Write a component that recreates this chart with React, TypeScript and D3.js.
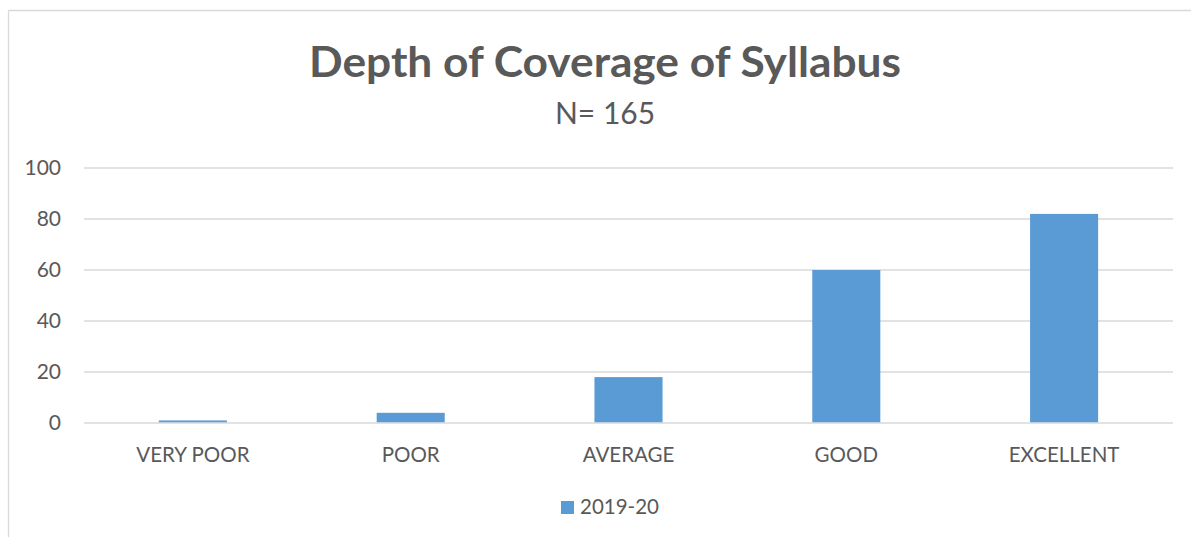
import React from "react";
import * as d3 from "d3";

const categories = ["VERY POOR", "POOR", "AVERAGE", "GOOD", "EXCELLENT"];
const values2019 = [1, 4, 18, 60, 82];
const yTicks = [0, 20, 40, 60, 80, 100];
const seriesName = "2019-20";
const titleText = "Depth of Coverage of Syllabus";
const subtitleText = "N= 165";

const W = 1191;
const H = 537;
const plot = { left: 84, right: 1173, top: 168, bottom: 423 };
const textColor = "#595959";
const gridColor = "#d9d9d9";
const barColor = "#5b9bd5";
const font = "Lato, 'Open Sans', sans-serif";

export default function App() {
  const x = d3
    .scaleBand<string>()
    .domain(categories)
    .range([plot.left, plot.right])
    .paddingInner(0.6875)
    .paddingOuter(0.34375);
  const y = d3.scaleLinear().domain([0, 100]).range([plot.bottom, plot.top]);
  const center = d3.scaleBand<string>().domain(categories).range([plot.left, plot.right]);

  return (
    <svg
      width={W}
      height={H}
      style={{ position: "absolute", left: 0, top: 0, background: "#fff" }}
      fontFamily={font}
    >
      <rect x={0} y={0} width={W} height={H} fill="#fff" />
      <line x1={8.5} y1={10.5} x2={W} y2={10.5} stroke={gridColor} strokeWidth={1.3} />
      <line x1={8.5} y1={10.5} x2={8.5} y2={H} stroke={gridColor} strokeWidth={1.3} />

      <text
        x={605}
        y={77}
        textAnchor="middle"
        fontSize={42}
        fontWeight={700}
        fill={textColor}
        textLength={592}
        lengthAdjust="spacingAndGlyphs"
      >
        {titleText}
      </text>
      <text x={605} y={124} textAnchor="middle" fontSize={30} fill={textColor}>
        {subtitleText}
      </text>

      {yTicks.map((t) => (
        <g key={t}>
          <line
            x1={plot.left}
            x2={plot.right}
            y1={y(t)}
            y2={y(t)}
            stroke={gridColor}
            strokeWidth={1.5}
          />
          <text x={61} y={y(t) + 7} textAnchor="end" fontSize={21} fill={textColor}>
            {t}
          </text>
        </g>
      ))}

      {categories.map((c, i) => (
        <g key={c}>
          <rect
            x={x(c)!}
            y={y(values2019[i])}
            width={x.bandwidth()}
            height={y(0) - y(values2019[i]) - 0.75}
            fill={barColor}
          />
          <text
            x={center(c)! + center.bandwidth() / 2}
            y={462}
            textAnchor="middle"
            fontSize={20.5}
            fill={textColor}
          >
            {c}
          </text>
        </g>
      ))}

      <rect x={561} y={501} width={13} height={13} fill={barColor} />
      <text x={580} y={514} fontSize={20.5} fill={textColor}>
        {seriesName}
      </text>
    </svg>
  );
}
